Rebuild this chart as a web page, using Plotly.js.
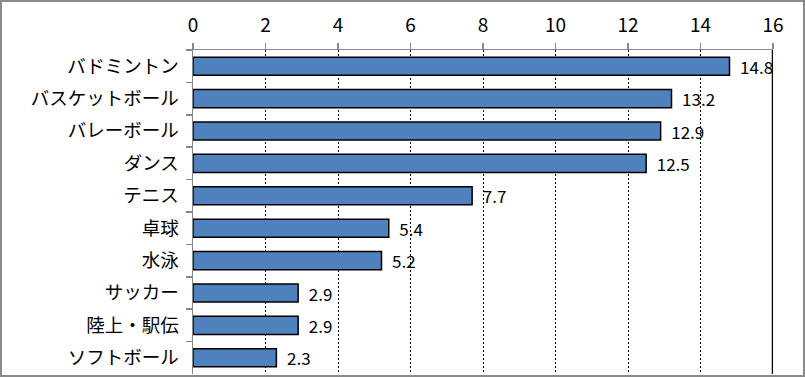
<!DOCTYPE html>
<html><head><meta charset="utf-8">
<script src="https://cdn.plot.ly/plotly-3.0.1.min.js"></script>
<style>
html,body{margin:0;padding:0;background:#fff;}
#chart{width:801px;height:373px;border:2px solid #8a8a8a;}
</style></head>
<body><div id="chart"></div>
<script>
const categories = ["バドミントン","バスケットボール","バレーボール","ダンス","テニス","卓球","水泳","サッカー","陸上・駅伝","ソフトボール"];
const values = [14.8, 13.2, 12.9, 12.5, 7.7, 5.4, 5.2, 2.9, 2.9, 2.3];
const tickValues = [0,2,4,6,8,10,12,14,16];

const font = "'Noto Sans CJK JP', 'Noto Sans', sans-serif";
const trace = {
  type: 'bar', orientation: 'h',
  x: values, y: categories,
  marker: {color: '#4F81BD', line: {color: '#000', width: 1.5}},
  text: values.map(v => '  ' + v.toFixed(1)),
  textposition: 'outside', cliponaxis: false, constraintext: 'none',
  textfont: {family: font, size: 17, color: '#000'},
  hoverinfo: 'none'
};
const layout = {
  width: 801, height: 373,
  margin: {l: 191, r: 30, t: 48, b: 1},
  paper_bgcolor: '#fff', plot_bgcolor: '#fff',
  showlegend: false,
  bargap: 0.44,
  font: {family: font, color: '#000'},
  xaxis: {
    side: 'top', range: [0, 16], tickvals: tickValues,
    showline: true, linecolor: '#888', linewidth: 1.5,
    ticks: 'outside', ticklen: 6, tickcolor: '#888', tickwidth: 1.5,
    showgrid: true, gridcolor: '#000', griddash: '2px,2px', gridwidth: 1,
    zeroline: false, tickfont: {size: 19, family: font}, ticklabelstandoff: 3
  },
  yaxis: {
    type: 'category', autorange: 'reversed',
    showline: true, linecolor: '#888', linewidth: 1.5,
    ticks: 'outside', tickson: 'boundaries', ticklen: 6, tickcolor: '#888', tickwidth: 1.5,
    showgrid: false, tickfont: {size: 18.5, family: font}, ticklabelstandoff: 9
  },
  shapes: [{type: 'line', xref: 'x', yref: 'paper', x0: 16, x1: 16, y0: 0, y1: 1,
            line: {color: '#000', width: 2.5}}]
};
Plotly.newPlot('chart', [trace], layout, {staticPlot: true});
</script></body></html>
